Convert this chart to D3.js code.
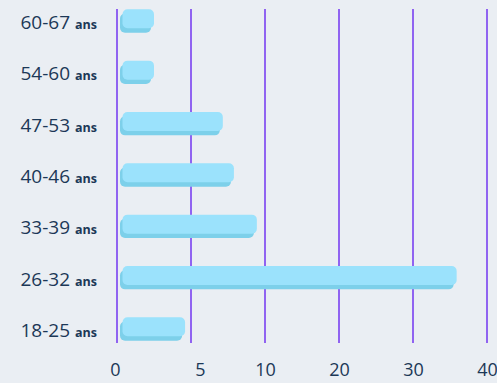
<!DOCTYPE html>
<html>
<head>
<meta charset="utf-8">
<script src="https://cdn.jsdelivr.net/npm/d3@7"></script>
<style>
  html, body { margin: 0; padding: 0; background: #eaeef3; }
  svg { display: block; }
  text { font-family: "Open Sans", sans-serif; fill: #1c3857; }
</style>
</head>
<body>
<svg id="chart" width="497" height="383"></svg>
<script>
const categories = ["60-67", "54-60", "47-53", "40-46", "33-39", "26-32", "18-25"];
const values = [2.5, 2.5, 7.15, 7.9, 9.45, 35.9, 4.6];
const tickValues = [0, 5, 10, 20, 30, 40];
const unitLabel = "ans";

const W = 497, H = 383;
const svg = d3.select("#chart");

const plotLeft = 117, plotRight = 487, plotTop = 9, plotBottom = 343;
const step = (plotRight - plotLeft) / (tickValues.length - 1);
const x = d3.scaleLinear()
  .domain(tickValues)
  .range(tickValues.map((d, i) => plotLeft + i * step));

const y = d3.scalePoint()
  .domain(categories)
  .range([21, 329]);

// gridlines
svg.append("g").selectAll("line")
  .data(tickValues)
  .join("line")
  .attr("x1", d => x(d)).attr("x2", d => x(d))
  .attr("y1", plotTop).attr("y2", plotBottom)
  .attr("stroke", "#9063f1")
  .attr("stroke-width", 2);

// bars
const bars = svg.append("g").selectAll("g")
  .data(categories.map((c, i) => ({ c, v: values[i] })))
  .join("g");

bars.append("rect")
  .attr("x", plotLeft + 3)
  .attr("y", d => y(d.c) - 7.5)
  .attr("width", d => x(d.v) - plotLeft - 6)
  .attr("height", 19.2)
  .attr("rx", 5)
  .attr("fill", "#7dd0ea");

bars.append("rect")
  .attr("x", plotLeft + 5.5)
  .attr("y", d => y(d.c) - 11.7)
  .attr("width", d => x(d.v) - plotLeft - 5.5)
  .attr("height", 19)
  .attr("rx", 5)
  .attr("fill", "#9be2fc");

// y labels
const labels = svg.append("g").selectAll("text")
  .data(categories)
  .join("text")
  .attr("x", 97)
  .attr("y", d => y(d) + 8)
  .attr("text-anchor", "end");
labels.append("tspan").attr("font-size", 19).text(d => d);
labels.append("tspan").attr("font-size", 12.5).attr("font-weight", 700).attr("dx", 5).text(unitLabel);

// x axis labels
const xAxis = d3.axisBottom(x).tickValues(tickValues).tickSize(0).tickPadding(0);
const gx = svg.append("g").attr("transform", `translate(0, 376)`).call(xAxis);
gx.select(".domain").remove();
gx.selectAll("text")
  .attr("font-size", 18)
  .attr("font-family", "Open Sans, sans-serif")
  .attr("fill", "#1c3857")
  .attr("y", 0)
  .attr("dy", 0)
  .attr("dx", d => d === 0 ? -2 : d === 5 ? 9 : 0);
</script>
</body>
</html>
